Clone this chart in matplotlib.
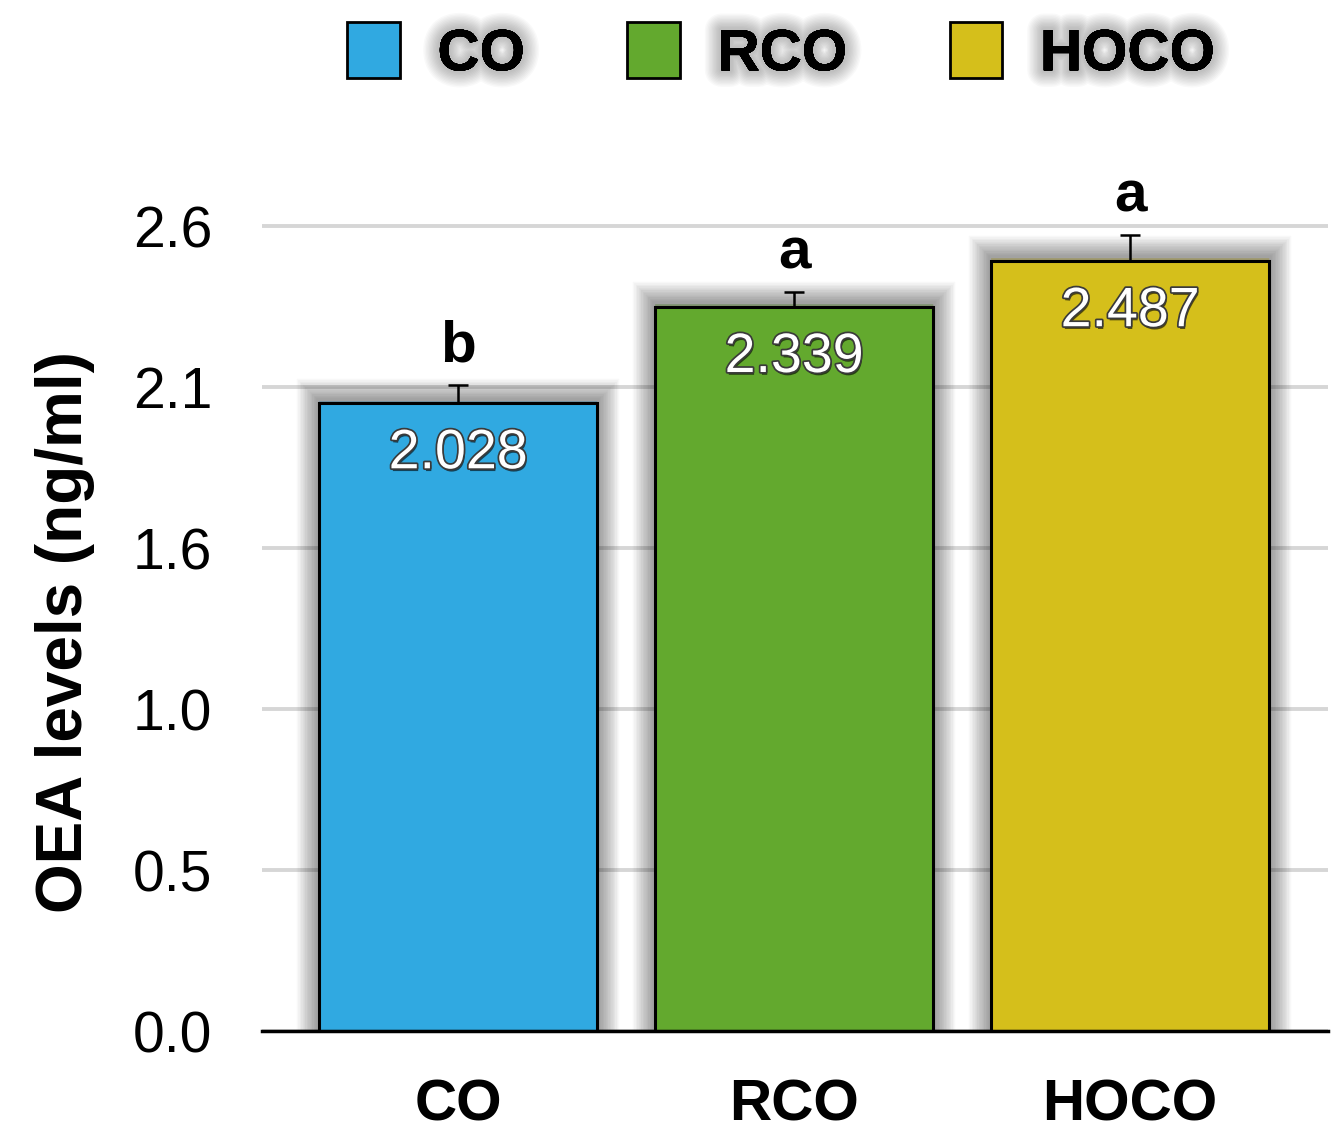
import matplotlib
matplotlib.use("Agg")
import matplotlib.pyplot as plt
import matplotlib.patheffects as pe
from matplotlib.patches import Patch
import numpy as np

# Data
groups = ["CO", "RCO", "HOCO"]
values = [2.028, 2.339, 2.487]
errors = [0.06, 0.05, 0.085]
letters = ["b", "a", "a"]
colors = ["#30A9E1", "#63A92E", "#D5BF1B"]
yticks = [0.0, 0.52, 1.04, 1.56, 2.08, 2.6]

plt.rcParams["font.family"] = ["Liberation Sans", "DejaVu Sans"]

fig = plt.figure(figsize=(13.33, 11.38), dpi=100)
ax = fig.add_axes([0.1966, 0.094, 0.7994, 0.748])

# soft shadow made of many faint layered strokes
bar_shadow = [pe.Stroke(linewidth=w, foreground="black", alpha=0.028, offset=(0, 2))
              for w in range(32, 2, -2)] + [pe.Normal()]
text_shadow = [pe.withStroke(linewidth=w, foreground="black", alpha=0.022)
               for w in range(24, 2, -2)] + [pe.Normal()]

x = np.arange(len(groups))
bars = ax.bar(x, values, width=0.825, color=colors, edgecolor="black",
              linewidth=2.2, zorder=2)
for b in bars:
    b.set_path_effects(bar_shadow)

ax.errorbar(x, values, yerr=[[0] * len(errors), errors], fmt="none",
            ecolor="black", elinewidth=1.8, capsize=7, capthick=1.8, zorder=3)

# significance letters and value labels
for xi, v, e, lab in zip(x, values, errors, letters):
    ax.annotate(lab, (xi, v + e), xytext=(0, 8), textcoords="offset points",
                ha="center", va="bottom", fontsize=42, fontweight="bold", zorder=4)
    ax.annotate(f"{v:.3f}", (xi, v), xytext=(0, -18), textcoords="offset points",
                ha="center", va="top", fontsize=40, color="white", zorder=4,
                path_effects=[pe.withSimplePatchShadow(offset=(1, -2), shadow_rgbFace="black", alpha=0.6),
                              pe.withStroke(linewidth=2.5, foreground="#3a3a3a")])

ax.set_xlim(-0.583, 2.588)
ax.set_ylim(0, 2.75)
ax.set_yticks(yticks)
ax.set_yticklabels([f"{t:.1f}" for t in yticks])
ax.set_xticks(x)
ax.set_xticklabels(groups, fontweight="bold")
ax.tick_params(axis="y", length=0, pad=36, labelsize=41)
ax.tick_params(axis="x", length=0, pad=34, labelsize=42)

ax.grid(axis="y", color="#d6d6d6", linewidth=2.8, zorder=0)
ax.set_axisbelow(True)
for s in ["top", "right", "left"]:
    ax.spines[s].set_visible(False)
ax.spines["bottom"].set_linewidth(2.5)
ax.spines["bottom"].set_zorder(5)

ax.set_ylabel("OEA levels (ng/ml)", fontsize=46, fontweight="bold", va="center")
ax.yaxis.set_label_coords(-0.185, 0.469)

handles = [Patch(facecolor=c, edgecolor="black", linewidth=2) for c in colors]
leg = fig.legend(handles, groups, loc="center", bbox_to_anchor=(0.586, 0.954),
                 ncol=3, frameon=False, handlelength=0.9,
                 handleheight=1.1, handletextpad=0.65, columnspacing=1.75,
                 prop={"weight": "bold", "size": 42})
for t in leg.get_texts():
    t.set_path_effects(text_shadow)

fig.savefig("out.png", dpi=100)
